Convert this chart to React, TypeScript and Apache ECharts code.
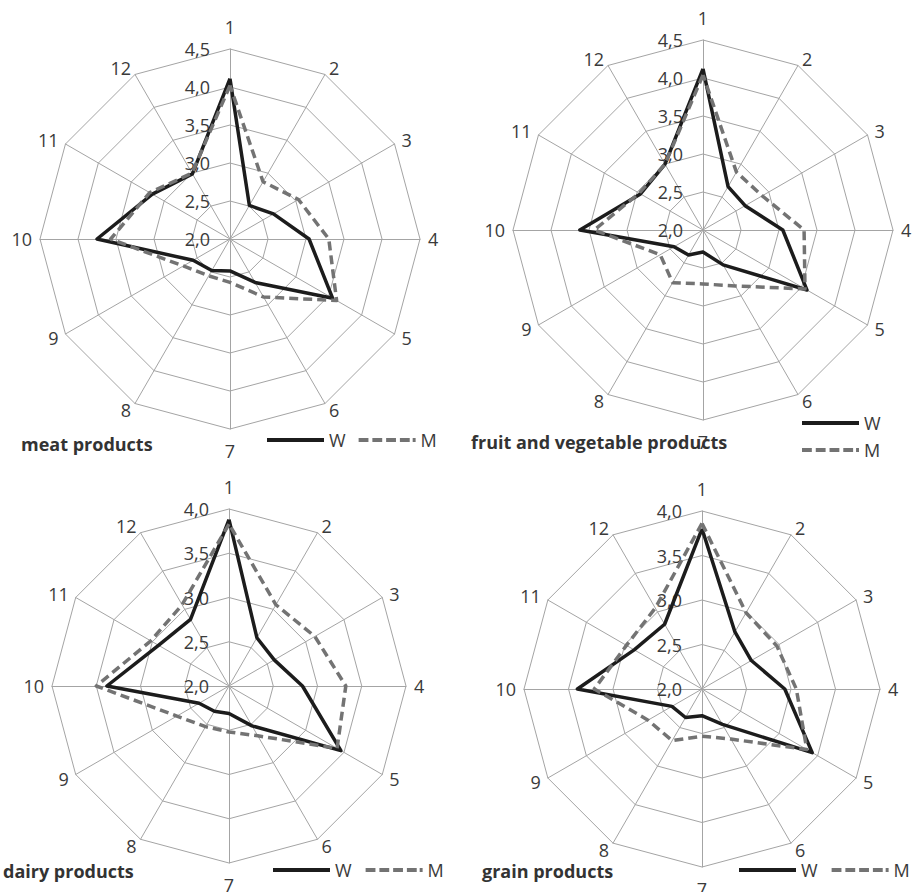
import React, { useEffect, useRef } from 'react';
import * as echarts from 'echarts';

// ---------- data ----------
const axisNames = ['1', '2', '3', '4', '5', '6', '7', '8', '9', '10', '11', '12'];
const seriesNames = ['W', 'M'];
const panelTitles = ['meat products', 'fruit and vegetable products', 'dairy products', 'grain products'];

const meatW = [4.11, 2.51, 2.66, 3.04, 3.56, 2.66, 2.42, 2.48, 2.56, 3.75, 3.18, 2.99];
const meatM = [4.02, 2.87, 3.04, 3.30, 3.62, 2.88, 2.57, 2.56, 2.71, 3.57, 3.22, 3.00];

const fruitW = [4.12, 2.66, 2.64, 3.05, 3.58, 2.53, 2.29, 2.38, 2.44, 3.62, 2.95, 3.00];
const fruitM = [4.04, 2.88, 2.90, 3.33, 3.55, 2.85, 2.71, 2.80, 2.65, 3.43, 2.97, 3.00];

const dairyW = [3.88, 2.63, 2.59, 2.83, 3.46, 2.52, 2.31, 2.33, 2.39, 3.38, 2.92, 2.87];
const dairyM = [3.83, 3.06, 3.12, 3.32, 3.41, 2.65, 2.52, 2.53, 2.68, 3.50, 3.02, 3.06];

const grainW = [3.80, 2.74, 2.64, 2.93, 3.43, 2.46, 2.30, 2.37, 2.39, 3.40, 2.88, 2.84];
const grainM = [3.86, 2.99, 2.97, 3.06, 3.36, 2.65, 2.53, 2.67, 2.70, 3.21, 2.98, 3.05];

const scaleMin = [2, 2, 2, 2];
const scaleMax = [4.5, 4.5, 4, 4];
const scaleSplits = [5, 5, 4, 4];

// ---------- layout / style ----------
const FONT = "'Open Sans', sans-serif";
const TEXT = '#3a3a3a';
const GRID = '#a4a4a4';
const W_COLOR = '#1c1c1c';
const M_COLOR = '#737373';

const panels = [
  { center: [230, 239], radius: 190, w: meatW, m: meatM },
  { center: [703, 230], radius: 190, w: fruitW, m: fruitM },
  { center: [229, 686], radius: 177, w: dairyW, m: dairyM },
  { center: [702, 689], radius: 178, w: grainW, m: grainM },
];

// ECharts lays radar indicators out counter-clockwise; this order makes them clockwise.
const cwOrder = [0, 11, 10, 9, 8, 7, 6, 5, 4, 3, 2, 1];
const cw = (arr: any[]) => cwOrder.map((i) => arr[i]);

const fmt = (v: number) => v.toFixed(1).replace('.', ',');

const dashIcon = 'path://M0,0h10v4h-10z M14,0h10v4h-10z M28,0h10v4h-10z M42,0h10v4h-10z M55,0h3v4h-3z';

const legendBase = {
  itemWidth: 57,
  itemHeight: 4,
  textStyle: { fontSize: 18, color: TEXT, fontFamily: FONT },
  itemStyle: { borderWidth: 0 },
  lineStyle: { width: 0 },
  selectedMode: false,
  padding: 0,
  data: [
    { name: seriesNames[0], icon: 'rect' },
    { name: seriesNames[1], icon: dashIcon },
  ],
};

export default function App() {
  const ref = useRef<HTMLDivElement>(null);

  useEffect(() => {
    if (!ref.current) return;
    const chart = echarts.init(ref.current, null, { renderer: 'svg' });

    const radar = panels.map((p, pi) => ({
      center: p.center,
      radius: p.radius,
      startAngle: 90,
      shape: 'polygon',
      splitNumber: scaleSplits[pi],
      nameGap: 8,
      axisName: { color: TEXT, fontSize: 18, fontFamily: FONT, padding: [5, 0, 5, 0] },
      splitLine: { lineStyle: { color: GRID, width: 1 } },
      splitArea: { show: false },
      axisLine: { lineStyle: { color: GRID, width: 1 } },
      axisTick: { show: false },
      axisLabel: { show: false },
      indicator: cw(axisNames).map((n, k) => ({
        name: n,
        min: scaleMin[pi],
        max: scaleMax[pi],
        ...(k === 0
          ? {
              axisLabel: {
                show: true,
                formatter: fmt,
                color: TEXT,
                fontSize: 18,
                fontFamily: FONT,
                margin: 20,
                showMinLabel: true,
                showMaxLabel: true,
              },
            }
          : {}),
      })),
    }));

    const series = panels.map((p, pi) => ({
      type: 'radar',
      radarIndex: pi,
      symbol: 'none',
      data: [
        {
          name: seriesNames[0],
          value: cw(p.w),
          lineStyle: { color: W_COLOR, width: 3.5, type: 'solid' },
          itemStyle: { color: W_COLOR },
        },
        {
          name: seriesNames[1],
          value: cw(p.m),
          lineStyle: { color: M_COLOR, width: 3.5, type: [9, 5] },
          itemStyle: { color: M_COLOR },
        },
      ],
    }));

    const titleStyle = { fontSize: 18, fontWeight: 'bold', color: '#333', fontFamily: FONT };
    const title = [
      { text: panelTitles[0], left: 21, top: 435, padding: 0, textStyle: titleStyle },
      { text: panelTitles[1], left: 471, top: 433, padding: 0, textStyle: titleStyle },
      { text: panelTitles[2], left: 3, top: 862, padding: 0, textStyle: titleStyle },
      { text: panelTitles[3], left: 482, top: 862, padding: 0, textStyle: titleStyle },
    ];

    const legend = [
      { ...legendBase, left: 267, top: 431, itemGap: 13 },
      { ...legendBase, left: 802, top: 414, orient: 'vertical', itemGap: 9 },
      { ...legendBase, left: 273, top: 861, itemGap: 14 },
      { ...legendBase, left: 739, top: 861, itemGap: 14 },
    ];

    chart.setOption({
      animation: false,
      backgroundColor: '#ffffff',
      title,
      legend,
      radar,
      series,
    });

    return () => chart.dispose();
  }, []);

  return (
    <div
      ref={ref}
      style={{ position: 'fixed', left: 0, top: 0, width: 914, height: 892, background: '#fff' }}
    />
  );
}
